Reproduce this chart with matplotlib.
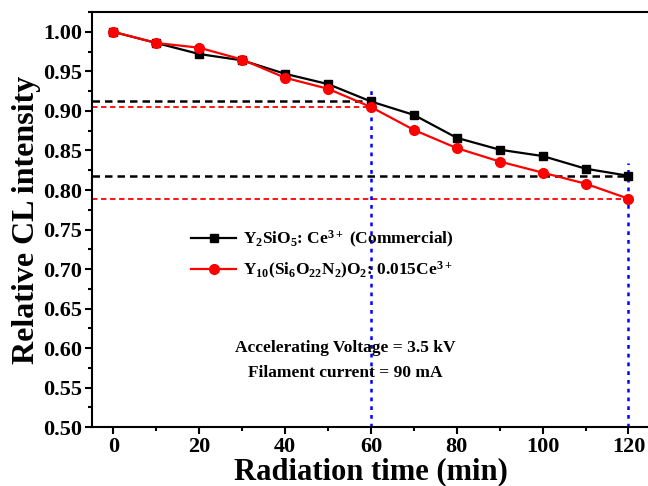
import numpy as np
import matplotlib
matplotlib.use("Agg")
import matplotlib.pyplot as plt
from matplotlib.ticker import MultipleLocator

# --- dữ liệu ---
time_min = [0, 10, 20, 30, 40, 50, 60, 70, 80, 90, 100, 110, 120]
y2sio5 = [1.000, 0.986, 0.972, 0.964, 0.947, 0.934, 0.912, 0.895, 0.866, 0.851, 0.843, 0.827, 0.818]
y10sion = [1.000, 0.986, 0.980, 0.965, 0.942, 0.928, 0.905, 0.876, 0.853, 0.836, 0.822, 0.808, 0.789]
label_com = r"Y$_2$SiO$_5$: Ce$^{3+}$ (Commercial)"
label_new = r"Y$_{10}$(Si$_6$O$_{22}$N$_2$)O$_2$: 0.015Ce$^{3+}$"

plt.rcParams['font.family'] = ['Liberation Serif', 'DejaVu Serif']
plt.rcParams['font.weight'] = 'bold'
plt.rcParams['mathtext.fontset'] = 'custom'
plt.rcParams['mathtext.rm'] = 'Liberation Serif:bold'
plt.rcParams['mathtext.it'] = 'Liberation Serif:bold'
plt.rcParams['mathtext.bf'] = 'Liberation Serif:bold'
plt.rcParams['mathtext.default'] = 'rm'

fig = plt.figure(figsize=(6.48, 4.86), dpi=100)
ax = fig.add_axes([0.142, 0.121, 0.861, 0.854])

# đường gióng ngang / dọc
ax.hlines(y2sio5[6], -5, 60, colors='black', linestyles=(0, (3, 2)), lw=1.8)
ax.hlines(y10sion[6], -5, 60, colors='red', linestyles=(0, (3, 2)), lw=1.3)
ax.hlines(y2sio5[-1], -5, 120, colors='black', linestyles=(0, (3, 2)), lw=1.8)
ax.hlines(y10sion[-1], -5, 120, colors='red', linestyles=(0, (3, 2)), lw=1.3)
ax.vlines(60, 0.5, 0.931, colors='blue', linestyles=(0, (1.5, 2)), lw=1.8)
ax.vlines(120, 0.5, 0.834, colors='blue', linestyles=(0, (1.5, 2)), lw=1.8)

ax.plot(time_min, y2sio5, color='black', marker='s', ms=6, lw=1.6, label=label_com)
ax.plot(time_min, y10sion, color='red', marker='o', ms=7, lw=1.6, label=label_new)

ax.set_xlim(-5, 125)
ax.set_ylim(0.50, 1.025)
ax.xaxis.set_major_locator(MultipleLocator(20))
ax.xaxis.set_minor_locator(MultipleLocator(10))
ax.yaxis.set_major_locator(MultipleLocator(0.05))
ax.yaxis.set_minor_locator(MultipleLocator(0.025))
ax.yaxis.set_major_formatter(matplotlib.ticker.FormatStrFormatter('%.2f'))
ax.tick_params(which='major', direction='out', length=5, width=1.5, labelsize=16, pad=2)
ax.tick_params(which='minor', direction='out', length=3, width=1.5)
for s in ax.spines.values():
    s.set_linewidth(1.5)

ax.set_xlabel('Radiation time (min)', fontsize=22, fontweight='bold', labelpad=0)
ax.set_ylabel('Relative CL intensity', fontsize=23, fontweight='bold', labelpad=2)

ax.legend(loc='upper left', bbox_to_anchor=(0.15, 0.515), frameon=False,
          fontsize=12.5, handlelength=2.6, handletextpad=0.4, labelspacing=0.55)

ax.text(54, 0.600, 'Accelerating Voltage = 3.5 kV', ha='center', va='center', fontsize=12.5)
ax.text(54, 0.569, 'Filament current = 90 mA', ha='center', va='center', fontsize=12.5)

fig.savefig('out.png', dpi=100)
